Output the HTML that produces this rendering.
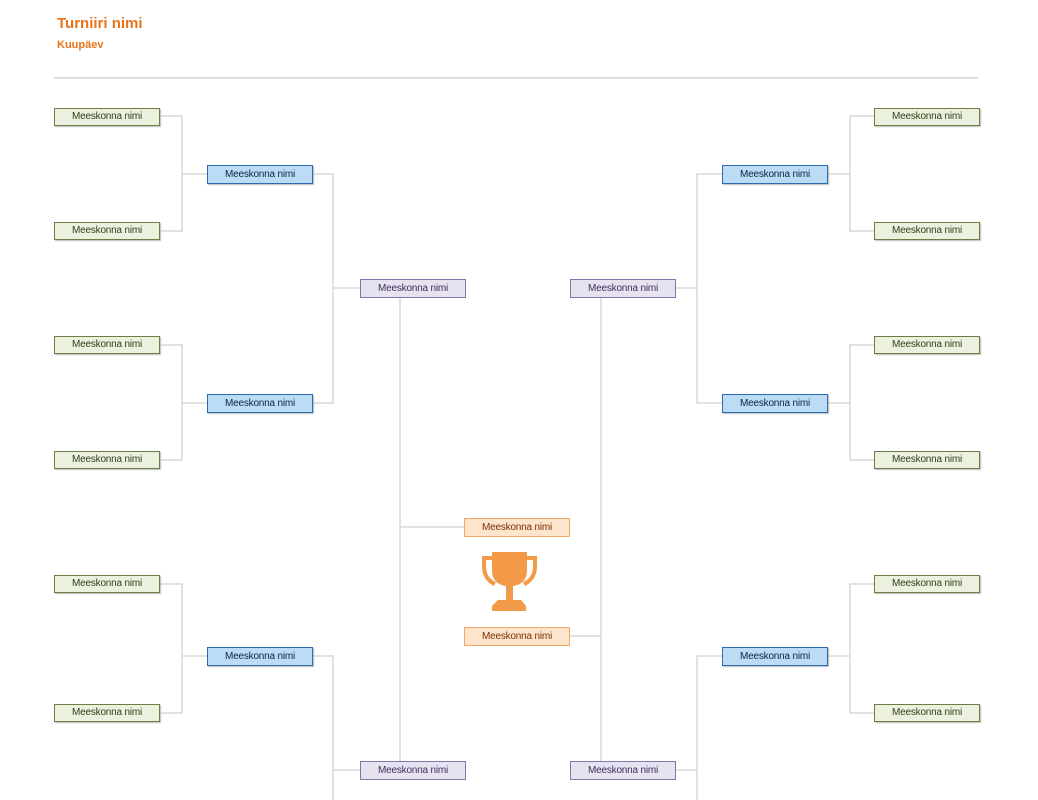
<!DOCTYPE html>
<html><head><meta charset="utf-8"><style>
body{margin:0;width:1038px;height:800px;background:#fff;position:relative;overflow:hidden;font-family:"Liberation Sans",sans-serif}
.t{position:absolute;left:57px;top:15px;color:#e8741a;font-weight:bold;font-size:15px}
.d{position:absolute;left:57px;top:39px;color:#e8741a;font-weight:bold;font-size:11px}
.b{position:absolute;width:106px;height:18px;box-sizing:border-box;border:1px solid;font-size:10px;line-height:16px;text-align:center;letter-spacing:-0.2px}
.g{background:#ebf1de;border-color:#6b7f45;color:#2f4019;box-shadow:1px 1px 1px #bbb}
.u{background:#bcdcf6;border-color:#2d6bb0;color:#0c2248;box-shadow:1px 1px 1px #bbb}
.p{background:#e7e2f0;border-color:#8375ad;color:#3d3060}
.o{background:#fde4cd;border-color:#f5a862;color:#7a3203}
svg{position:absolute;left:0;top:0}
</style></head><body>
<div class="t">Turniiri nimi</div>
<div class="d">Kuupäev</div>
<svg width="1038" height="800">
<line x1="54" y1="78" x2="978" y2="78" stroke="#ddd" stroke-width="2"/>
<g stroke="#d8d8d8" stroke-width="1.5" fill="none">
<path d="M160 116H182V231H160M182 174H207"/>
<path d="M160 345H182V460H160M182 403H207"/>
<path d="M160 584H182V713H160M182 656H207"/>
<path d="M874 116H850V231H874M850 174H827"/>
<path d="M874 345H850V460H874M850 403H827"/>
<path d="M874 584H850V713H874M850 656H827"/>
<path d="M312 174H333V403H312M333 288H360"/>
<path d="M312 656H333V800M333 770H360"/>
<path d="M722 174H697V403H722M697 288H675"/>
<path d="M722 656H697V800M697 770H675"/>
<path d="M400 297V761M400 527H464"/>
<path d="M601 297V761M601 636H569"/>
</g>
<g fill="#f39a48">
<path d="M492 552H527V570Q527 584 513 586V600H506V586Q492 584 492 570Z"/>
<path d="M482 556H492V560H486V566Q486 578 496 582L494 586Q482 580 482 566Z"/>
<path d="M537 556H527V560H533V566Q533 578 523 582L525 586Q537 580 537 566Z"/>
<path d="M498 600H521L526 606V611H492V606Z"/>
</g>
</svg>
<div class="b g" style="left:54px;top:108px">Meeskonna nimi</div>
<div class="b g" style="left:54px;top:222px">Meeskonna nimi</div>
<div class="b g" style="left:54px;top:336px">Meeskonna nimi</div>
<div class="b g" style="left:54px;top:451px">Meeskonna nimi</div>
<div class="b g" style="left:54px;top:575px">Meeskonna nimi</div>
<div class="b g" style="left:54px;top:704px">Meeskonna nimi</div>
<div class="b g" style="left:874px;top:108px">Meeskonna nimi</div>
<div class="b g" style="left:874px;top:222px">Meeskonna nimi</div>
<div class="b g" style="left:874px;top:336px">Meeskonna nimi</div>
<div class="b g" style="left:874px;top:451px">Meeskonna nimi</div>
<div class="b g" style="left:874px;top:575px">Meeskonna nimi</div>
<div class="b g" style="left:874px;top:704px">Meeskonna nimi</div>
<div class="b u" style="left:207px;top:165px;height:19px;line-height:17px">Meeskonna nimi</div>
<div class="b u" style="left:207px;top:394px;height:19px;line-height:17px">Meeskonna nimi</div>
<div class="b u" style="left:207px;top:647px;height:19px;line-height:17px">Meeskonna nimi</div>
<div class="b u" style="left:722px;top:165px;height:19px;line-height:17px">Meeskonna nimi</div>
<div class="b u" style="left:722px;top:394px;height:19px;line-height:17px">Meeskonna nimi</div>
<div class="b u" style="left:722px;top:647px;height:19px;line-height:17px">Meeskonna nimi</div>
<div class="b p" style="left:360px;top:279px;height:19px;line-height:17px">Meeskonna nimi</div>
<div class="b p" style="left:360px;top:761px;height:19px;line-height:17px">Meeskonna nimi</div>
<div class="b p" style="left:570px;top:279px;height:19px;line-height:17px">Meeskonna nimi</div>
<div class="b p" style="left:570px;top:761px;height:19px;line-height:17px">Meeskonna nimi</div>
<div class="b o" style="left:464px;top:518px;height:19px;line-height:17px">Meeskonna nimi</div>
<div class="b o" style="left:464px;top:627px;height:19px;line-height:17px">Meeskonna nimi</div>
</body></html>
